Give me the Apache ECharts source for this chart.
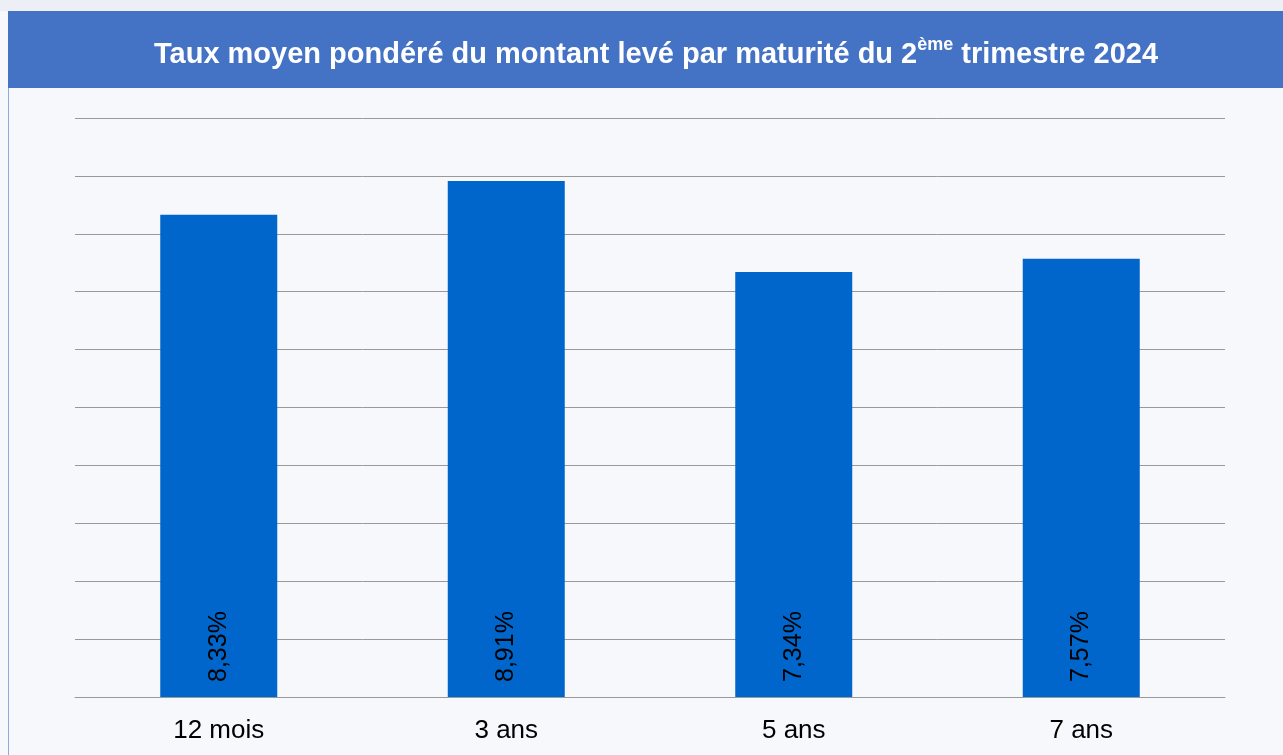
<!DOCTYPE html>
<html>
<head>
<meta charset="utf-8">
<script src="https://cdn.jsdelivr.net/npm/echarts@6/dist/echarts.min.js"></script>
<style>
html,body{margin:0;padding:0;background:#f4f6fa;}
#container{width:1283px;height:755px;}
</style>
</head>
<body>
<div id="container"></div>
<script>
var categories = ['12 mois', '3 ans', '5 ans', '7 ans'];
var rates = [8.33, 8.91, 7.34, 7.57];
var rateLabels = ['8,33%', '8,91%', '7,34%', '7,57%'];

var dom = document.getElementById("container");
var myChart = echarts.init(dom);

var option = {
    backgroundColor: '#f7f8fb',
    animation: false,
    graphic: [
        {type: 'rect', left: 0, top: 0, shape: {width: 1283, height: 11}, style: {fill: '#eceff5'}, z: -1},
        {type: 'rect', left: 8, top: 11, shape: {width: 1275, height: 77}, style: {fill: '#4472C4'}},
        {type: 'rect', left: 8, top: 88, shape: {width: 1, height: 667}, style: {fill: '#8faadc'}}
    ],
    title: {
        text: '{a|Taux moyen pondéré du montant levé par maturité du 2}{s|ème}{a| trimestre 2024}',
        left: 651,
        top: 31,
        textAlign: 'center',
        textStyle: {
            rich: {
                a: {fontFamily: 'Liberation Sans', fontSize: 29, fontWeight: 'bold', color: '#fff', lineHeight: 38},
                s: {fontFamily: 'Liberation Sans', fontSize: 18, fontWeight: 'bold', color: '#fff', verticalAlign: 'top', lineHeight: 38, padding: [0, 0, 14, 0]}
            }
        }
    },
    grid: {
        left: 75,
        right: 58,
        top: 118,
        bottom: 58,
        containLabel: false
    },
    xAxis: [
        {
            type: 'category',
            data: categories,
            axisLine: {lineStyle: {color: '#999999', width: 1}},
            axisTick: {length: 8, lineStyle: {color: '#999999'}},
            axisLabel: {color: '#000', fontSize: 26, fontFamily: 'Liberation Sans', margin: 21}
        }
    ],
    yAxis: [
        {
            type: 'value',
            min: 0,
            max: 10,
            interval: 1,
            axisLabel: {show: false},
            axisLine: {show: false},
            axisTick: {show: false},
            splitLine: {lineStyle: {color: '#999999', width: 1}}
        }
    ],
    series: [
        {
            type: 'bar',
            data: rates,
            barWidth: 117,
            itemStyle: {color: '#0066CC'},
            label: {
                show: true,
                position: 'insideBottom',
                rotate: 90,
                align: 'left',
                verticalAlign: 'middle',
                distance: 15,
                color: '#000',
                fontSize: 25,
                fontFamily: 'Liberation Sans',
                formatter: function (p) {
                    return rateLabels[p.dataIndex];
                }
            }
        }
    ]
};
myChart.setOption(option);
</script>
</body>
</html>
